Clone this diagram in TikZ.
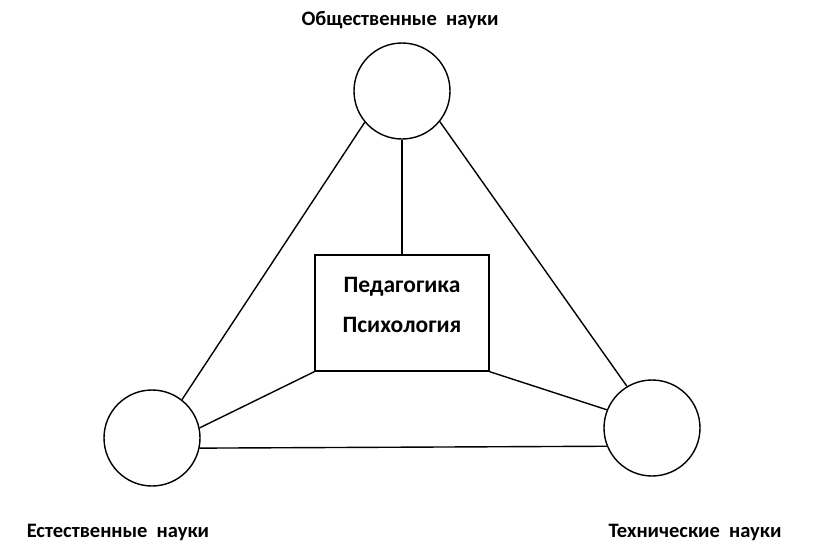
\documentclass[tikz,border=0pt]{standalone}
\usepackage{fontspec}
\setmainfont{Carlito}
\begin{document}
\begin{tikzpicture}[x=1pt,y=-1pt,
  sci/.style={circle,draw,line width=1.4pt,minimum size=96pt,inner sep=0pt},
  conn/.style={line width=1.4pt},
  lbl/.style={font=\bfseries\fontsize{20.5}{24}\selectfont,inner sep=0pt},
  coretxt/.style={font=\bfseries\fontsize{23.5}{27}\selectfont,inner sep=0pt},
  core/.style={draw,line width=1.4pt,minimum width=174pt,minimum height=116pt,inner sep=0pt}]
\useasboundingbox (0,0) rectangle (814,557);
\node[sci] (T) at (402,91) {};
\node[sci] (L) at (152,438) {};
\node[sci] (R) at (652,428) {};
\node[core] (C) at (402,313) {};
\node[coretxt] (p1) at (402,287) {Педагогика};
\node[coretxt] (p2) at (402,325) {Психология};
\node[lbl] (lt) at (400,20) {Общественные\hspace{0.45em}науки};
\node[lbl] (ll) at (118,532) {Естественные\hspace{0.45em}науки};
\node[lbl] (lr) at (695,532) {Технические\hspace{0.45em}науки};
\draw[conn] (T.220) -- (L.52);
\draw[conn] (T.321) -- (R.121.6);
\draw[conn] (T.south) -- (C.north);
\draw[conn] (C.south west) -- (L.12);
\draw[conn] (C.south east) -- (R.158);
\draw[conn] (L.-12) -- (R.202);
\end{tikzpicture}
\end{document}
